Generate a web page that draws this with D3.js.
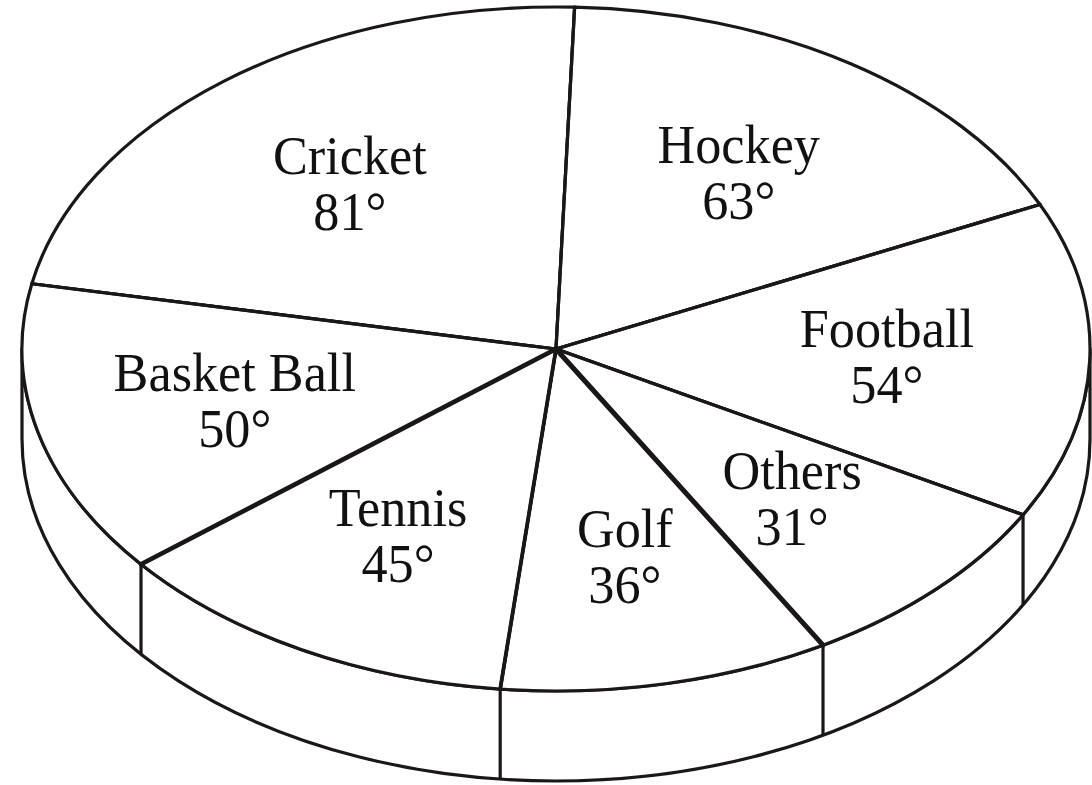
<!DOCTYPE html>
<html>
<head>
<meta charset="utf-8">
<script src="https://cdn.jsdelivr.net/npm/d3@7"></script>
<style>
  html, body { margin: 0; padding: 0; background: #ffffff; }
  svg { display: block; }
</style>
</head>
<body>
<svg id="chart" width="1092" height="785"></svg>
<script>
// ---- data ----
const categories = ["Cricket", "Hockey", "Football", "Others", "Golf", "Tennis", "Basket Ball"];
const degrees = [81, 63, 54, 31, 36, 45, 50];
const valueSuffix = "°";
const startDeg = -79; // where the first slice (Cricket) starts, clockwise from top

// ---- layout / style constants ----
const W = 1092, H = 785;
const cx = 556, cy = 349;        // centre of top face
const rx = 534, ry = 342;        // ellipse radii of the top face
const depth = 90;                // thickness of the disc
const ink = "#1b1717";
const outlineW = 3.2;
const lineW = 3.2;
const boundaryWidth = { "Others": 5, "Tennis": 4.6, "Golf": 3.8 }; // width of the line that ends a slice
const labelFrac = 0.62;
const fontSize = 55;

const svg = d3.select("#chart");
svg.append("rect").attr("width", W).attr("height", H).attr("fill", "#fff");

const rad = d => d * Math.PI / 180;
const pie = d3.pie().sort(null).value(d => d.value)
  .startAngle(rad(startDeg)).endAngle(rad(startDeg) + 2 * Math.PI);
const slices = pie(categories.map((c, i) => ({ name: c, value: degrees[i] })));

// point on top face for a d3 angle (0 = top, clockwise)
const pt = (a, f = 1) => [cx + f * rx * Math.sin(a), cy - f * ry * Math.cos(a)];

// ---- side of the disc (front half) ----
const sidePath = `M${cx + rx},${cy} A${rx},${ry} 0 0 1 ${cx - rx},${cy} L${cx - rx},${cy + depth} A${rx},${ry} 0 0 0 ${cx + rx},${cy + depth} Z`;
svg.append("path").attr("d", sidePath)
  .attr("fill", "#fff").attr("stroke", ink).attr("stroke-width", outlineW)
  .attr("stroke-linejoin", "round");

// vertical edges on the side at visible boundaries
const norm = a => ((a % (2 * Math.PI)) + 2 * Math.PI) % (2 * Math.PI);
const boundaries = slices.map(s => ({ name: s.data.name, angle: norm(s.endAngle) }));
const front = boundaries.filter(b => b.angle > Math.PI / 2 && b.angle < 3 * Math.PI / 2);
svg.append("g").selectAll("line").data(front).join("line")
  .attr("x1", d => pt(d.angle)[0]).attr("y1", d => pt(d.angle)[1])
  .attr("x2", d => pt(d.angle)[0]).attr("y2", d => pt(d.angle)[1] + depth)
  .attr("stroke", ink).attr("stroke-width", lineW);

// ---- top face: slices via d3.arc in a vertically squashed group ----
const arc = d3.arc().innerRadius(0).outerRadius(rx);
const faceG = svg.append("g").attr("transform", `translate(${cx},${cy}) scale(1,${ry / rx})`);
faceG.selectAll("path.slice").data(slices).join("path")
  .attr("class", "slice")
  .attr("d", arc)
  .attr("fill", "#fff")
  .attr("stroke", ink)
  .attr("stroke-width", outlineW)
  .attr("stroke-linejoin", "round")
  .attr("vector-effect", "non-scaling-stroke");

// radial boundary lines
svg.append("g").selectAll("line").data(boundaries).join("line")
  .attr("x1", cx).attr("y1", cy)
  .attr("x2", d => pt(d.angle)[0]).attr("y2", d => pt(d.angle)[1])
  .attr("stroke", ink)
  .attr("stroke-width", d => boundaryWidth[d.name] || lineW)
  .attr("stroke-linecap", "round");

// ---- labels ----
const labels = svg.append("g")
  .attr("font-family", "'Liberation Serif', 'Times New Roman', serif")
  .attr("font-size", fontSize)
  .attr("fill", "#111")
  .attr("text-anchor", "middle");

slices.forEach(s => {
  const mid = (s.startAngle + s.endAngle) / 2;
  const [lx, ly] = pt(mid, labelFrac);
  const t = labels.append("text")
    .attr("transform", `translate(${lx},${ly}) scale(0.95,1)`);
  t.append("tspan").attr("x", 0).attr("y", -9).text(s.data.name);
  t.append("tspan").attr("x", 0).attr("y", 47).text(s.data.value + valueSuffix);
});
</script>
</body>
</html>
